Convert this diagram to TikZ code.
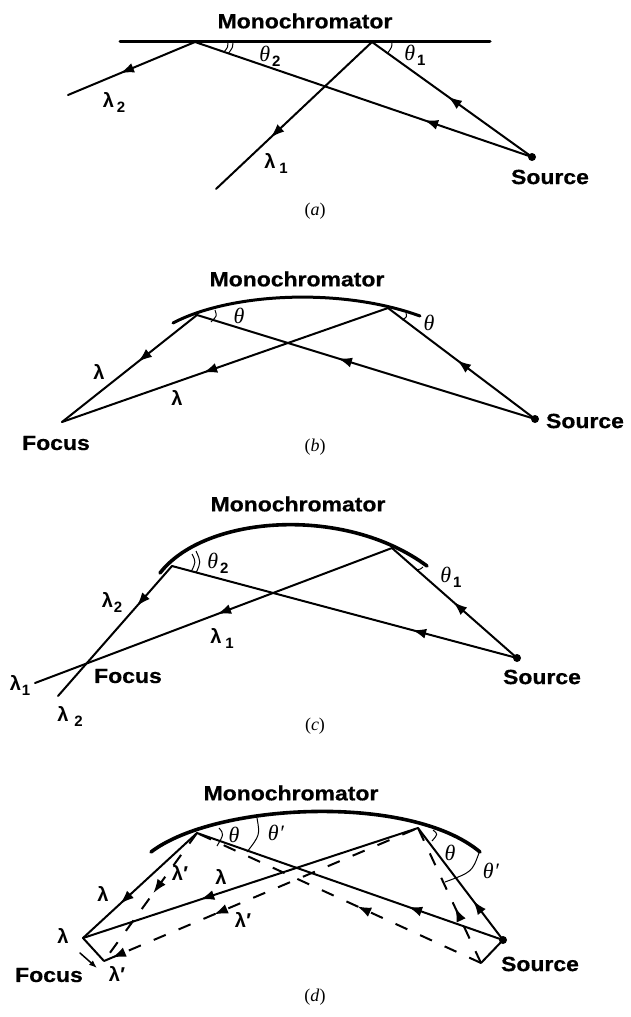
\documentclass[tikz,border=0pt]{standalone}
\usepackage{fontspec}
\setmainfont{Liberation Serif}
\newfontfamily\labfont[BoldFeatures={FakeStretch=1.12,FakeBold=0.6}]{Liberation Sans}
\newfontfamily\lamfont{Liberation Sans}
\usetikzlibrary{decorations.markings,arrows.meta}
\newcommand{\lamt}[2][]{{\lamfont\bfseries\fontsize{20}{22}\selectfont λ\ifx\relax#2\relax\else\kern#1pt\raisebox{-5pt}{\fontsize{15}{16}\selectfont #2}\fi}}
\newcommand{\thet}[1]{{\fontsize{22}{24}\selectfont\itshape θ\ifx\relax#1\relax\else\kern2pt\raisebox{-5pt}{\lamfont\upshape\bfseries\fontsize{15}{16}\selectfont #1}\fi}}
\newcommand{\thep}{{\fontsize{22}{24}\selectfont\itshape θ\kern0.5pt\raisebox{0pt}{′}}}
\newcommand{\lamp}{{\lamfont\bfseries\fontsize{20}{22}\selectfont λ\kern0.5pt′}}
\tikzset{
  x=1pt,y=-1pt,
  lab/.style={inner sep=0pt,font=\labfont\bfseries\fontsize{20.5}{24}\selectfont},
  sym/.style={inner sep=0pt},
  captext/.style={inner sep=0pt,font=\fontsize{18}{20}\selectfont},
  ray/.style={line width=2pt,line cap=round},
  dray/.style={line width=2pt,dash pattern=on 13pt off 14pt},
  mono/.style={line width=3pt,line cap=round},
  monoheavy/.style={line width=3.6pt,line cap=round},
  ang/.style={line width=1pt},
  arrowat/.style={postaction={decorate,decoration={markings,mark=at position #1 with {\arrow{Latex[length=14pt,width=10pt]}}}}},
  dot/.style={circle,fill=black,inner sep=0pt,minimum size=8pt}
}
\begin{document}
\begin{tikzpicture}
\useasboundingbox (0,0) rectangle (630,1017);
% ---------- (a)
\coordinate (a1) at (120,41); \coordinate (a2) at (490,41);
\coordinate (aH2) at (195,42); \coordinate (aH1) at (372,42);
\coordinate (aE2) at (68,95); \coordinate (aE1) at (216,189);
\node[dot] (aS) at (532,157) {};
\draw[mono] (a1) -- (a2);
\draw[ray,arrowat=0.525] (aS.center) -- (aH1);
\draw[ray,arrowat=0.32] (aS.center) -- (aH2);
\draw[ray,arrowat=0.65] (aH1) -- (aE1);
\draw[ray,arrowat=0.59] (aH2) -- (aE2);
\draw[ang] (233,43) .. controls (233,47) .. (228,54);
\draw[ang] (228,43) .. controls (228,47) .. (224,52);
\draw[ang] (392,42) .. controls (392,47) .. (387,54);
\node[lab] (aM) at (305,21) {Monochromator};
\node[sym] (at2) at (270,56) {\thet{2}};
\node[sym] (at1) at (415,55) {\thet{1}};
\node[sym] (al2) at (114,102) {\lamt[3]{2}};
\node[sym] (al1) at (276,163) {\lamt[4]{1}};
\node[lab] (aSrc) at (550,177) {Source};
\node[captext] (acap) at (315,211) {(\textit{a})};
% ---------- (b)
\coordinate (b1) at (173,323); \coordinate (b2) at (420,316);
\coordinate (bH2) at (197,315); \coordinate (bH1) at (388,308);
\coordinate (bF) at (62,422);
\node[dot] (bS) at (535,419) {};
\draw[monoheavy,line width=3pt] (b1) .. controls (230,293) and (340,287) .. (b2);
\draw[ray,arrowat=0.53] (bS.center) -- (bH1);
\draw[ray,arrowat=0.583] (bS.center) -- (bH2);
\draw[ray,arrowat=0.567] (bH1) -- (bF);
\draw[ray,arrowat=0.437] (bH2) -- (bF);
\draw[ang] (215,310) .. controls (217,316) .. (211,322);
\draw[ang] (406,313) .. controls (407,317) .. (402,320);
\node[lab] (bM) at (297,279) {Monochromator};
\node[sym] (bt2) at (239,316) {\thet{}};
\node[sym] (bt1) at (429,323) {\thet{}};
\node[sym] (bl2) at (99,372) {\lamt{}};
\node[sym] (bl1) at (177,398) {\lamt{}};
\node[lab] (bFoc) at (56,443) {Focus};
\node[lab] (bSrc) at (585,421) {Source};
\node[captext] (bcap) at (315,447) {(\textit{b})};
% ---------- (c)
\coordinate (c1) at (160,573); \coordinate (c2) at (427,566);
\coordinate (cH2) at (172,566); \coordinate (cH1) at (392,548);
\coordinate (cE1) at (35,683); \coordinate (cE2) at (58,696);
\node[dot] (cS) at (517,658) {};
\draw[monoheavy] (c1) .. controls (205,515) and (345,505) .. (c2);
\draw[ray,arrowat=0.51] (cS.center) -- (cH1);
\draw[ray,arrowat=0.304] (cS.center) -- (cH2);
\draw[ray,arrowat=0.49] (cH1) -- (cE1);
\draw[ray,arrowat=0.31] (cH2) -- (cE2);
\draw[ang] (192,554) .. controls (196,562) .. (191,572);
\draw[ang] (196,551) .. controls (201,562) .. (196,573);
\draw[ang] (423,567) .. controls (421,569) .. (416,570);
\node[lab] (cM) at (298,504) {Monochromator};
\node[sym] (ct2) at (218,563) {\thet{2}};
\node[sym] (ct1) at (451,577) {\thet{1}};
\node[sym] (cl2) at (112,602) {\lamt[1]{2}};
\node[sym] (cl1) at (222,638) {\lamt[4]{1}};
\node[sym] (cl1b) at (20,685) {\lamt[1]{1}};
\node[sym] (cl2b) at (70,716) {\lamt[6]{2}};
\node[lab] (cFoc) at (128,676) {Focus};
\node[lab] (cSrc) at (542,677) {Source};
\node[captext] (ccap) at (315,726) {(\textit{c})};
% ---------- (d)
\coordinate (d1) at (151,852); \coordinate (d2) at (480,852);
\coordinate (dH2) at (197,833); \coordinate (dH1) at (418,828);
\coordinate (dF) at (83,938); \coordinate (dFp) at (104,961);
\coordinate (dSp) at (481,963);
\coordinate (dTa) at (80,953); \coordinate (dTb) at (97,968);
\node[dot] (dS) at (503,940) {};
\draw[monoheavy] (d1) .. controls (215,803) and (410,793) .. (d2);
\draw[ray,arrowat=0.35] (dS.center) -- (dH1);
\draw[ray,arrowat=0.31] (dS.center) -- (dH2);
\draw[ray,arrowat=0.65] (dH1) -- (dF);
\draw[ray,arrowat=0.675] (dH2) -- (dF);
\draw[ray] (dF) -- (dFp);
\draw[ray] (dS.center) -- (dSp);
\draw[dray,arrowat=0.41] (dSp) -- (dH1);
\draw[dray,arrowat=0.436] (dSp) -- (dH2);
\draw[dray,dash phase=23pt,arrowat=0.65,arrowat=0.975] (dH1) -- (dFp);
\draw[dray,arrowat=0.47] (dH2) -- (dFp);
\draw[ray,line width=1.5pt,-{Latex[length=8pt,width=6pt]}] (dTa) -- (dTb);
\draw[ang] (219,828) .. controls (224,834) .. (217,846);
\draw[ang] (257,818) .. controls (260,835) .. (247,852);
\draw[ang] (433,830) .. controls (438,834) .. (432,841);
\draw[ang] (479,853) .. controls (472,872) .. (445,882);
\node[lab] (dM) at (291,793) {Monochromator};
\node[sym] (dt2) at (234,835) {\thet{}};
\node[sym] (dtp2) at (276,833) {\thep};
\node[sym] (dt1) at (450,853) {\thet{}};
\node[sym] (dtp1) at (491,871) {\thep};
\node[sym] (dl1) at (103,894) {\lamt{}};
\node[sym] (dlp1) at (180,873) {\lamp};
\node[sym] (dl2) at (221,877) {\lamt{}};
\node[sym] (dlp2) at (243,920) {\lamp};
\node[sym] (dl3) at (63,936) {\lamt{}};
\node[sym] (dlp3) at (117,974) {\lamp};
\node[lab] (dFoc) at (49,975) {Focus};
\node[lab] (dSrc) at (540,964) {Source};
\node[captext] (dcap) at (315,997) {(\textit{d})};
\end{tikzpicture}
\end{document}
